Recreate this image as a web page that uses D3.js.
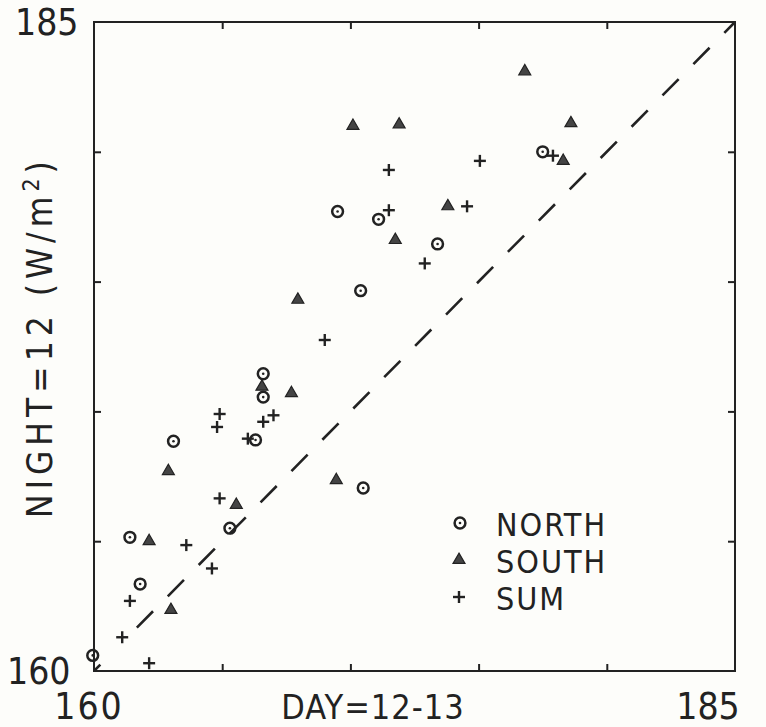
<!DOCTYPE html>
<html>
<head>
<meta charset="utf-8">
<script src="https://cdn.jsdelivr.net/npm/d3@7"></script>
<style>
  html, body { margin: 0; padding: 0; background: #fdfdfa; }
  svg { display: block; }
  text { font-family: "DejaVu Sans Condensed", "Liberation Sans", sans-serif; fill: #222; }
</style>
</head>
<body>
<svg id="chart" width="766" height="727"></svg>
<script>
// ---- data ----
const northDay   = [169.5, 171.1, 170.4, 177.5, 173.4, 166.6, 166.6, 163.1, 166.3, 170.5, 165.3, 161.4, 161.8, 159.95];
const northNight = [177.7, 177.4, 174.65, 180.0, 176.45, 171.45, 170.55, 168.85, 168.9, 167.05, 165.5, 165.15, 163.35, 160.6];

const southDay   = [170.1, 171.9, 171.75, 167.95, 176.8, 178.6, 178.3, 173.8, 166.55, 167.7, 162.9, 169.45, 165.55, 162.15, 163.0];
const southNight = [181.0, 181.05, 176.6, 174.3, 183.1, 181.1, 179.65, 177.9, 170.95, 170.7, 167.7, 167.35, 166.4, 165.0, 162.35];

const sumDay   = [171.5, 171.5, 175.05, 177.9, 174.55, 172.9, 169.0, 164.9, 164.8, 166.6, 167.0, 166.0, 164.9, 163.6, 164.6, 161.4, 161.1, 162.15];
const sumNight = [179.3, 177.75, 179.65, 179.85, 177.9, 175.7, 172.75, 169.9, 169.4, 169.6, 169.85, 168.95, 166.65, 164.85, 163.95, 162.7, 161.3, 160.3];

const axisMin = 160, axisMax = 185;
const tickValues = [165, 170, 175, 180];
const cornerLabels = ["160", "185"];
const xTitle = "DAY=12-13";
const yTitle = "NIGHT=12 (W/m";
const yTitleSup = "2";
const legendLabels = ["NORTH", "SOUTH", "SUM"];

// ---- layout ----
const svg = d3.select("#chart");
const ink = "#222";
const x = d3.scaleLinear().domain([axisMin, axisMax]).range([94, 735]);
const y = d3.scaleLinear().domain([axisMin, axisMax]).range([671, 22]);

// frame
svg.append("rect")
  .attr("x", x(axisMin)).attr("y", y(axisMax))
  .attr("width", x(axisMax) - x(axisMin)).attr("height", y(axisMin) - y(axisMax))
  .attr("fill", "none").attr("stroke", ink).attr("stroke-width", 2);

// inward ticks on all four sides
const tl = 7;
const axB = d3.axisBottom(x).tickValues(tickValues).tickSize(-tl).tickFormat("");
const axT = d3.axisTop(x).tickValues(tickValues).tickSize(-tl).tickFormat("");
const axL = d3.axisLeft(y).tickValues(tickValues).tickSize(-tl).tickFormat("");
const axR = d3.axisRight(y).tickValues(tickValues).tickSize(-tl).tickFormat("");
[[axB, `translate(0,${y(axisMin)})`], [axT, `translate(0,${y(axisMax)})`],
 [axL, `translate(${x(axisMin)},0)`], [axR, `translate(${x(axisMax)},0)`]].forEach(([ax, tr]) => {
  const g = svg.append("g").attr("transform", tr).call(ax);
  g.select(".domain").remove();
  g.selectAll("line").attr("stroke", ink).attr("stroke-width", 2);
});

// dashed 1:1 line
const dashes = ["9", "52"];
for (let i = 0; i < 22; i++) dashes.push("23", "21");
svg.append("line")
  .attr("x1", x(axisMin)).attr("y1", y(axisMin))
  .attr("x2", x(axisMax)).attr("y2", y(axisMax))
  .attr("stroke", ink).attr("stroke-width", 2.6)
  .attr("stroke-dasharray", dashes.join(" "));

// markers
function drawCircle(g, cx, cy) {
  g.append("circle").attr("cx", cx).attr("cy", cy).attr("r", 5.4)
    .attr("fill", "none").attr("stroke", ink).attr("stroke-width", 2.5);
  g.append("circle").attr("cx", cx).attr("cy", cy).attr("r", 1.3).attr("fill", ink);
}
const triPath = d3.symbol().type(d3.symbolTriangle).size(62);
function drawTri(g, cx, cy) {
  g.append("path").attr("d", triPath()).attr("transform", `translate(${cx},${cy})`)
    .attr("fill", "#444").attr("stroke", ink).attr("stroke-width", 1.2);
}
function drawPlus(g, cx, cy) {
  const s = 6;
  g.append("line").attr("x1", cx - s).attr("x2", cx + s).attr("y1", cy).attr("y2", cy)
    .attr("stroke", ink).attr("stroke-width", 2.4);
  g.append("line").attr("x1", cx).attr("x2", cx).attr("y1", cy - s).attr("y2", cy + s)
    .attr("stroke", ink).attr("stroke-width", 2.4);
}

const pts = svg.append("g");
southDay.forEach((d, i) => drawTri(pts, x(d), y(southNight[i])));
sumDay.forEach((d, i) => drawPlus(pts, x(d), y(sumNight[i])));
northDay.forEach((d, i) => drawCircle(pts, x(d), y(northNight[i])));

// corner labels
const fs = 37;
svg.append("text").attr("x", 15).attr("y", 35).attr("font-size", fs).text(cornerLabels[1]);
svg.append("text").attr("x", 7).attr("y", 684).attr("font-size", fs).text(cornerLabels[0]);
svg.append("text").attr("x", 89).attr("y", 719).attr("text-anchor", "middle").attr("font-size", fs)
  .attr("letter-spacing", 2).text(cornerLabels[0]);
svg.append("text").attr("x", x(axisMax) - 27).attr("y", 719).attr("text-anchor", "middle").attr("font-size", fs).text(cornerLabels[1]);

// axis titles
svg.append("text").attr("x", 373).attr("y", 719).attr("text-anchor", "middle")
  .attr("font-size", 34).attr("letter-spacing", 1).text(xTitle);

const yt = svg.append("text")
  .attr("transform", `translate(52,337) rotate(-90)`)
  .attr("text-anchor", "middle").attr("font-size", 35).attr("letter-spacing", 5);
yt.append("tspan").text(yTitle);
yt.append("tspan").attr("dy", -13).attr("font-size", 23).text(yTitleSup);
yt.append("tspan").attr("dy", 13).text(")");

// legend
const lg = svg.append("g");
const legY = [523, 560, 597];
drawCircle(lg, 460, legY[0]);
drawTri(lg, 459, legY[1]);
drawPlus(lg, 459, legY[2]);
legendLabels.forEach((t, i) => {
  lg.append("text").attr("x", 496).attr("y", legY[i] + 13).attr("font-size", 32)
    .attr("letter-spacing", 2).text(t);
});
</script>
</body>
</html>
